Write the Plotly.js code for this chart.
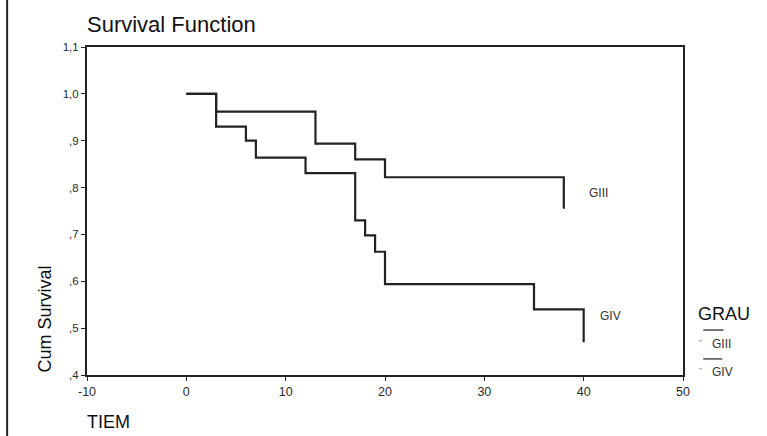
<!DOCTYPE html>
<html>
<head>
<meta charset="utf-8">
<script src="https://cdn.plot.ly/plotly-3.0.1.min.js"></script>
<style>html,body{margin:0;padding:0;background:#fff;}#chart{width:767px;height:436px;}</style>
</head>
<body>
<div id="chart"></div>
<script>
// Data
const giiiTime = [0, 3, 13, 17, 20, 38];
const giiiSurv = [1.0, 0.962, 0.894, 0.860, 0.822, 0.755];
const givTime = [0, 3, 6, 7, 12, 17, 18, 19, 20, 35, 40];
const givSurv = [1.0, 0.930, 0.900, 0.864, 0.831, 0.730, 0.698, 0.663, 0.594, 0.540, 0.470];
const xTickVals = [-10, 0, 10, 20, 30, 40, 50];
const xTickText = ['-10', '0', '10', '20', '30', '40', '50'];
const yTickVals = [0.4, 0.5, 0.6, 0.7, 0.8, 0.9, 1.0, 1.1];
const yTickText = [',4', ',5', ',6', ',7', ',8', ',9', '1,0', '1,1'];
const groupNames = ['GIII', 'GIV'];

const font = 'Arial, "Liberation Sans", sans-serif';
const lineColor = '#222';

const traces = [
  {x: giiiTime, y: giiiSurv, name: groupNames[0], mode: 'lines', line: {shape: 'hv', color: lineColor, width: 2.2}},
  {x: givTime, y: givSurv, name: groupNames[1], mode: 'lines', line: {shape: 'hv', color: lineColor, width: 2.2}}
];

const layout = {
  width: 767, height: 436,
  margin: {l: 87, r: 84, t: 47, b: 61},
  paper_bgcolor: '#fff', plot_bgcolor: '#fff',
  showlegend: false,
  font: {family: font, color: '#222'},
  xaxis: {
    range: [-10, 50], tickvals: xTickVals, ticktext: xTickText,
    showgrid: false, zeroline: false, showline: true, mirror: true,
    linecolor: '#222', linewidth: 2, ticks: 'outside', ticklen: 4, tickcolor: '#222',
    tickfont: {size: 12.5, color: '#2a2a2a', family: font}
  },
  yaxis: {
    range: [0.4, 1.1], tickvals: yTickVals, ticktext: yTickText,
    showgrid: false, zeroline: false, showline: true, mirror: true,
    linecolor: '#222', linewidth: 2, ticks: 'outside', ticklen: 4, tickcolor: '#222',
    tickfont: {size: 11.5, color: '#2a2a2a', family: font}
  },
  annotations: [
    {text: 'Survival Function', xref: 'paper', yref: 'paper', x: -0.003, y: 1.07, xanchor: 'left', yanchor: 'middle', showarrow: false, font: {size: 22, color: '#111', family: font}},
    {text: 'Cum Survival', xref: 'paper', yref: 'paper', x: -0.072, y: 0.0, xanchor: 'center', yanchor: 'bottom', textangle: -90, showarrow: false, font: {size: 18, color: '#111', family: font}},
    {text: 'TIEM', xref: 'paper', yref: 'paper', x: -0.003, y: -0.143, xanchor: 'left', yanchor: 'middle', showarrow: false, font: {size: 18, color: '#111', family: font}},
    {text: groupNames[0], x: 40.3, y: 0.789, xanchor: 'left', yanchor: 'middle', showarrow: false, font: {size: 12, color: '#333', family: font}},
    {text: groupNames[1], x: 41.4, y: 0.526, xanchor: 'left', yanchor: 'middle', showarrow: false, font: {size: 12, color: '#333', family: font}},
    {text: 'GRAU', xref: 'paper', yref: 'paper', x: 1.022, y: 0.186, xanchor: 'left', yanchor: 'middle', showarrow: false, font: {size: 18, color: '#111', family: font}},
    {text: groupNames[0], xref: 'paper', yref: 'paper', x: 1.045, y: 0.0945, xanchor: 'left', yanchor: 'middle', showarrow: false, font: {size: 12, color: '#333', family: font}},
    {text: groupNames[1], xref: 'paper', yref: 'paper', x: 1.045, y: 0.009, xanchor: 'left', yanchor: 'middle', showarrow: false, font: {size: 12, color: '#333', family: font}},
    {text: '"', xref: 'paper', yref: 'paper', x: 1.024, y: 0.1, xanchor: 'left', yanchor: 'middle', showarrow: false, font: {size: 8, color: '#666', family: font}},
    {text: '"', xref: 'paper', yref: 'paper', x: 1.024, y: 0.015, xanchor: 'left', yanchor: 'middle', showarrow: false, font: {size: 8, color: '#666', family: font}}
  ],
  shapes: [
    {type: 'line', xref: 'paper', yref: 'paper', x0: 1.034, x1: 1.068, y0: 0.137, y1: 0.137, line: {color: '#333', width: 1.3}},
    {type: 'line', xref: 'paper', yref: 'paper', x0: 1.034, x1: 1.066, y0: 0.049, y1: 0.049, line: {color: '#333', width: 1.3}},
    {type: 'line', xref: 'paper', yref: 'paper', x0: -0.134, x1: -0.134, y0: -0.19, y1: 1.15, line: {color: '#222', width: 2}}
  ]
};

Plotly.newPlot('chart', traces, layout, {displayModeBar: false, staticPlot: true});
</script>
</body>
</html>
